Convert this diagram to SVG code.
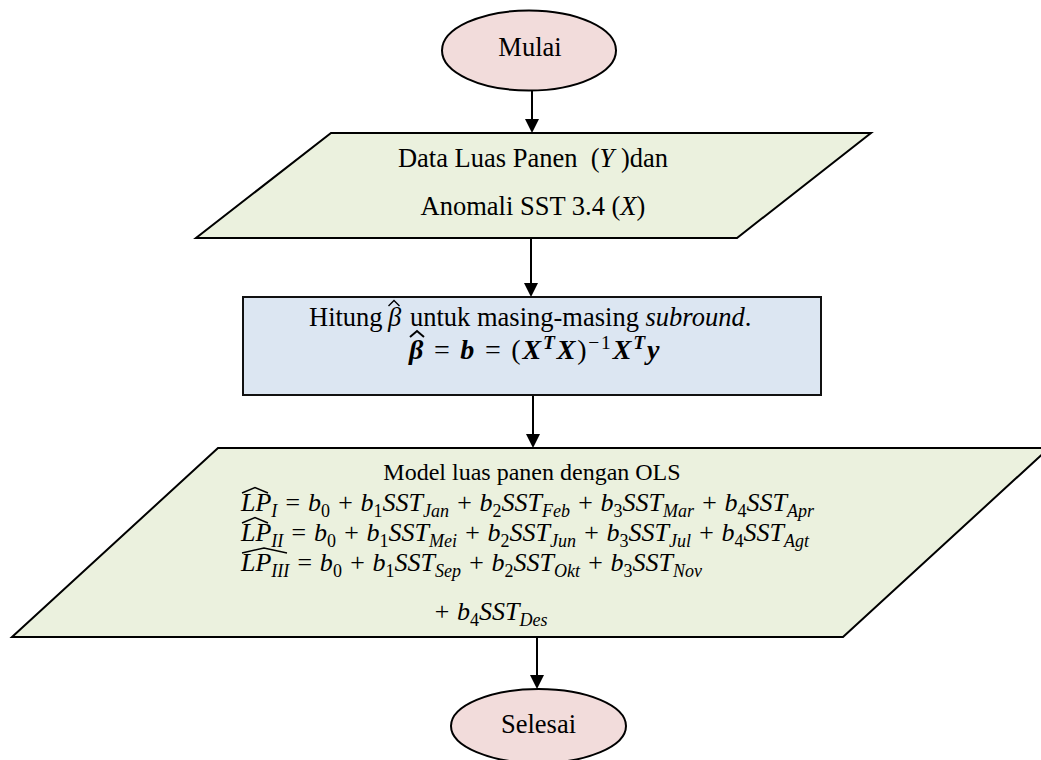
<svg xmlns="http://www.w3.org/2000/svg" width="1041" height="760" viewBox="0 0 1041 760">
  <style>
    .t { font-family: "Liberation Serif", "Times New Roman", serif; font-size: 26.5px; fill: #000; }
    .c { text-anchor: middle; }
    .i { font-style: italic; }
    .m { font-family: "Liberation Serif", "Times New Roman", serif; font-size: 26px; font-style: italic; fill: #000; }
    .sb { font-size: 18px; }
    .up { font-style: normal; }
    .bd { font-weight: bold; }
    .nb { font-weight: normal; font-style: normal; }
    .term { fill: #F2DCDB; stroke: #000; stroke-width: 2; }
    .io { fill: #EBF1DE; stroke: #000; stroke-width: 2; }
    .proc { fill: #DCE6F2; stroke: #111; stroke-width: 2; }
    .hat { fill: none; stroke: #000; stroke-width: 1.4; stroke-linejoin: miter; }
    .flow { stroke: #000; stroke-width: 2; fill: none; marker-end: url(#arrow); }
  </style>
  <defs>
    <marker id="arrow" markerUnits="userSpaceOnUse" markerWidth="14" markerHeight="14" refX="6" refY="7" orient="auto">
      <path d="M0,0 L14,7 L0,14 Z" fill="#000"/>
    </marker>
  </defs>
  <rect width="1041" height="760" fill="#fff"/>

  <!-- connectors -->
  <g id="connectors">
    <line class="flow" x1="532" y1="91" x2="532" y2="125"/>
    <line class="flow" x1="531" y1="238" x2="531" y2="289"/>
    <line class="flow" x1="533" y1="395" x2="533" y2="440"/>
    <line class="flow" x1="537" y1="637" x2="537" y2="681"/>
  </g>

  <!-- start -->
  <g id="mulai">
    <ellipse class="term" cx="529" cy="50.5" rx="87" ry="40"/>
    <text class="t c" x="530" y="56">Mulai</text>
  </g>

  <!-- input data -->
  <g id="data">
    <polygon class="io" points="331,133 871,133 737,238 196,238"/>
    <text class="t c" x="533" y="167">Data Luas Panen&#160; (<tspan class="i">Y</tspan> )dan</text>
    <text class="t c" x="533" y="215">Anomali SST 3.4 (<tspan class="i">X</tspan>)</text>
  </g>

  <!-- estimation step -->
  <g id="hitung">
    <rect class="proc" x="243" y="297" width="578" height="98"/>
    <text class="t" x="309" y="326">Hitung <tspan class="i" x="388">β</tspan><tspan x="410">untuk masing-masing </tspan><tspan class="i">subround</tspan>.</text>
    <polyline class="hat" points="388.5,306 394,300.5 399.5,306"/>
    <text class="m" x="409" y="359" style="font-size:28px;letter-spacing:1.8px"><tspan class="bd">β</tspan><tspan class="nb"> = </tspan><tspan class="bd">b</tspan><tspan class="nb"> = (</tspan><tspan class="bd">X</tspan><tspan class="bd" style="font-size:19.5px" dy="-10">T</tspan><tspan class="bd" dy="10">X</tspan><tspan class="nb">)</tspan><tspan class="nb" style="font-size:19.5px" dy="-10">−1</tspan><tspan class="bd" dy="10">X</tspan><tspan class="bd" style="font-size:19.5px" dy="-10">T</tspan><tspan class="bd" dy="10">y</tspan></text>
    <polyline class="hat" points="410,337 417,331 424,337" style="stroke-width:2"/>
  </g>

  <!-- regression model output -->
  <g id="model">
    <polygon class="io" points="218,448 1049,448 843,637 12,637"/>
    <text class="t c" x="532" y="480" style="font-size:24px">Model luas panen dengan OLS</text>
    <polyline class="hat" points="242,493 255,487.5 268,493"/>
    <text class="m" x="241" y="511">LP<tspan class="sb" dy="6">I</tspan><tspan dy="-6"> = b</tspan><tspan class="sb up" dy="6">0</tspan><tspan dy="-6"> + b</tspan><tspan class="sb up" dy="6">1</tspan><tspan dy="-6">SST</tspan><tspan class="sb" dy="6">Jan</tspan><tspan dy="-6"> + b</tspan><tspan class="sb up" dy="6">2</tspan><tspan dy="-6">SST</tspan><tspan class="sb" dy="6">Feb</tspan><tspan dy="-6"> + b</tspan><tspan class="sb up" dy="6">3</tspan><tspan dy="-6">SST</tspan><tspan class="sb" dy="6">Mar</tspan><tspan dy="-6"> + b</tspan><tspan class="sb up" dy="6">4</tspan><tspan dy="-6">SST</tspan><tspan class="sb" dy="6">Apr</tspan></text>
    <polyline class="hat" points="242,523 255,517.5 268,523"/>
    <text class="m" x="241" y="541">LP<tspan class="sb" dy="6">II</tspan><tspan dy="-6"> = b</tspan><tspan class="sb up" dy="6">0</tspan><tspan dy="-6"> + b</tspan><tspan class="sb up" dy="6">1</tspan><tspan dy="-6">SST</tspan><tspan class="sb" dy="6">Mei</tspan><tspan dy="-6"> + b</tspan><tspan class="sb up" dy="6">2</tspan><tspan dy="-6">SST</tspan><tspan class="sb" dy="6">Jun</tspan><tspan dy="-6"> + b</tspan><tspan class="sb up" dy="6">3</tspan><tspan dy="-6">SST</tspan><tspan class="sb" dy="6">Jul</tspan><tspan dy="-6"> + b</tspan><tspan class="sb up" dy="6">4</tspan><tspan dy="-6">SST</tspan><tspan class="sb" dy="6">Agt</tspan></text>
    <polyline class="hat" points="242,553 264,548 287,553"/>
    <text class="m" x="241" y="571">LP<tspan class="sb" dy="6">III</tspan><tspan dy="-6"> = b</tspan><tspan class="sb up" dy="6">0</tspan><tspan dy="-6"> + b</tspan><tspan class="sb up" dy="6">1</tspan><tspan dy="-6">SST</tspan><tspan class="sb" dy="6">Sep</tspan><tspan dy="-6"> + b</tspan><tspan class="sb up" dy="6">2</tspan><tspan dy="-6">SST</tspan><tspan class="sb" dy="6">Okt</tspan><tspan dy="-6"> + b</tspan><tspan class="sb up" dy="6">3</tspan><tspan dy="-6">SST</tspan><tspan class="sb" dy="6">Nov</tspan></text>
    <text class="m" x="433" y="620">+ b<tspan class="sb up" dy="6">4</tspan><tspan dy="-6">SST</tspan><tspan class="sb" dy="6">Des</tspan></text>
  </g>

  <!-- end -->
  <g id="selesai">
    <ellipse class="term" cx="538.5" cy="726" rx="87.5" ry="37"/>
    <text class="t c" x="538.5" y="733">Selesai</text>
  </g>
</svg>
